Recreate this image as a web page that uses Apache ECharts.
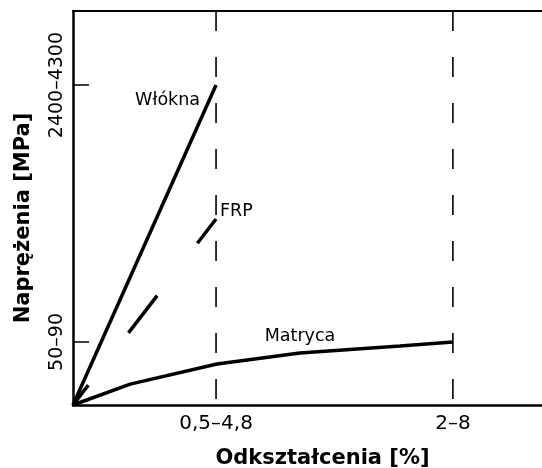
<!DOCTYPE html>
<html><head><meta charset="utf-8">
<script src="https://cdn.jsdelivr.net/npm/echarts@6/dist/echarts.min.js"></script>
<style>html,body{margin:0;padding:0;background:#fff}#c{width:542px;height:468px}</style>
</head><body><div id="c"></div>
<script>
// axis ticks (chart units: x 0..100, y 0..100)
const xTickValues = [30.5, 81];
const xTickLabels = ['0,5–4,8', '2–8'];
const yTickValues = [16, 81.2];
const yTickLabels = ['50–90', '2400–4300'];
// series
const wloknaX = [0, 30.5];
const wloknaY = [0, 81.2];
const frpX = [0, 30.5];
const frpY = [0, 47.2];
const matrycaX = [0, 12.2, 30.7, 48.4, 69.7, 81];
const matrycaY = [0, 5.3, 10.4, 13.2, 15.0, 16.0];
const names = ['Włókna', 'FRP', 'Matryca'];

const F = 'DejaVu Sans';
const chart = echarts.init(document.getElementById('c'), null, {renderer: 'canvas'});

function pts(xs, ys) { return xs.map((x, i) => [x, ys[i]]); }
function withLabel(arr, idx, label) {
  return arr.map((p, i) => i === idx ? {value: p, symbolSize: 0, label: Object.assign({show: true, fontFamily: F, fontSize: 17.5, color: '#000'}, label)} : {value: p, symbolSize: 0});
}

const guideSeries = xTickValues.map(v => ({
  type: 'line', data: [[v, 100], [v, 0]], symbol: 'none', silent: true,
  lineStyle: {color: '#000', width: 1.6, type: [20, 26]}, z: 1
}));

chart.setOption({
  animation: false,
  backgroundColor: '#fff',
  grid: {left: 73, right: 0, top: 11, bottom: 63, outerBoundsMode: 'none', containLabel: false},
  xAxis: [{
    type: 'value', min: 0, max: 100, position: 'bottom',
    name: 'Odkształcenia [%]', nameLocation: 'middle', nameGap: 43,
    nameTextStyle: {fontFamily: F, fontSize: 21, fontWeight: 'bold', color: '#000', padding: [0, 0, 0, 30]},
    axisLine: {show: true, lineStyle: {color: '#000', width: 2.5}},
    axisTick: {show: false},
    splitLine: {show: false},
    axisLabel: {customValues: xTickValues, fontFamily: F, fontSize: 20, color: '#000', margin: 9,
      formatter: v => xTickLabels[xTickValues.indexOf(v)] || ''}
  }, {
    type: 'value', min: 0, max: 100, position: 'top',
    axisLine: {show: true, lineStyle: {color: '#000', width: 2}},
    axisTick: {show: false}, axisLabel: {show: false}, splitLine: {show: false}
  }],
  yAxis: {
    type: 'value', min: 0, max: 100,
    name: 'Naprężenia [MPa]', nameLocation: 'middle', nameGap: 39, nameRotate: 90,
    nameTextStyle: {fontFamily: F, fontSize: 21, fontWeight: 'bold', color: '#000', padding: [0, 20, 0, 0]},
    axisLine: {show: true, lineStyle: {color: '#000', width: 2.5}},
    axisTick: {show: true, inside: true, length: 16, customValues: yTickValues, lineStyle: {color: '#000', width: 1.5}},
    splitLine: {show: false},
    axisLabel: {customValues: yTickValues, rotate: 90, fontFamily: F, fontSize: 19, color: '#000', margin: 6,
      formatter: v => yTickLabels[yTickValues.indexOf(v)] || ''}
  },
  series: guideSeries.concat([
    {type: 'line', name: names[0], data: withLabel(pts(wloknaX, wloknaY), 1, {formatter: names[0], position: 'left', offset: [-11, 15]}),
      symbol: 'circle', showSymbol: true, lineStyle: {color: '#000', width: 3.5}, itemStyle: {color: '#000'}, z: 3},
    {type: 'line', name: names[1], data: withLabel(pts(frpX, frpY), 1, {formatter: names[1], position: 'right', offset: [-1, -8]}),
      symbol: 'circle', showSymbol: true, lineStyle: {color: '#000', width: 3.5, type: [47, 66], dashOffset: 22}, itemStyle: {color: '#000'}, z: 3},
    {type: 'line', name: names[2], data: withLabel(pts(matrycaX, matrycaY), 3, {formatter: names[2], position: 'top', offset: [0, -3]}),
      symbol: 'circle', showSymbol: true, lineStyle: {color: '#000', width: 3.5}, itemStyle: {color: '#000'}, z: 3}
  ])
});
</script></body></html>
